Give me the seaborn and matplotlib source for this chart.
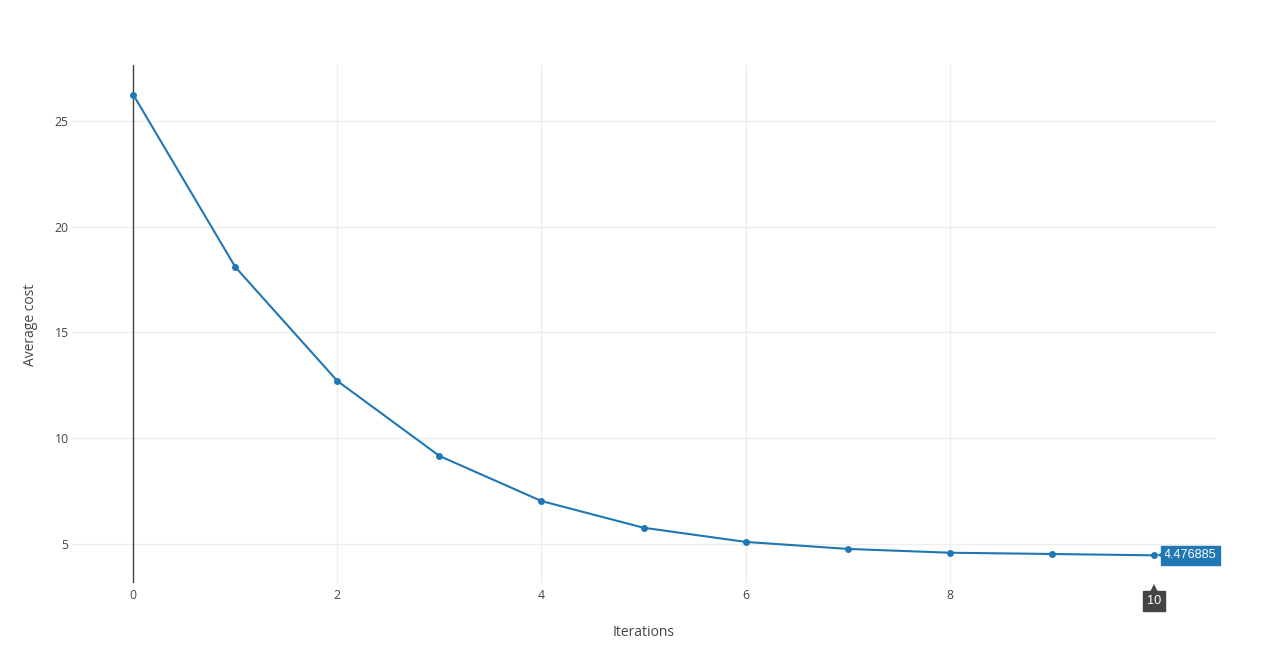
import matplotlib
matplotlib.use("Agg")
import matplotlib.pyplot as plt
import matplotlib.transforms as mtransforms
import seaborn as sns
import pandas as pd

# values
iterations = [0, 1, 2, 3, 4, 5, 6, 7, 8, 9, 10]
avg_cost = [26.23, 18.09, 12.71, 9.17, 7.04, 5.78, 5.11, 4.78, 4.60, 4.54, 4.476885]
y_ticks = [5, 10, 15, 20, 25]
x_ticks = [0, 2, 4, 6, 8]

df = pd.DataFrame({"Iterations": iterations, "Average cost": avg_cost})

sns.set_style("white")
plt.rcParams["font.family"] = ["Open Sans", "DejaVu Sans"]

blue = "#1f77b4"
dark = "#444444"

fig = plt.figure(figsize=(12.73, 6.56), dpi=100)
ax = fig.add_axes([72 / 1273, 1 - 583 / 656, 1143 / 1273, 518 / 656])

ax.grid(True, color="#eeeeee", linewidth=1)
ax.set_axisbelow(True)
ax.axvline(0, color=dark, linewidth=1, zorder=1.5)

sns.lineplot(data=df, x="Iterations", y="Average cost", ax=ax, color=blue,
             linewidth=1.5, marker="o", markersize=5, markeredgewidth=0, zorder=3)

ax.set_xlim(-0.6, 10.6)
ax.set_ylim(3.17, 27.63)
ax.set_xticks(x_ticks)
ax.set_yticks(y_ticks)
ax.tick_params(axis="both", length=0, labelsize=8.8, labelcolor=dark)
ax.tick_params(axis="x", pad=4)
ax.tick_params(axis="y", pad=2.5)
for s in ax.spines.values():
    s.set_visible(False)

ax.set_xlabel("Iterations", fontsize=10, color=dark)
ax.set_ylabel("Average cost", fontsize=10, color=dark)
ax.xaxis.set_label_coords(0.5, -0.081)
ax.yaxis.set_label_coords(-0.0298, 0.498)

# hover labels on the last point
last_x, last_y = iterations[-1], avg_cost[-1]
y_bottom = ax.get_ylim()[0]
hover_font = ["Liberation Sans", "DejaVu Sans"]


def shifted(dx_px, dy_px):
    return ax.transData + mtransforms.ScaledTranslation(dx_px / 100, dy_px / 100, fig.dpi_scale_trans)


ax.annotate(f"{last_y:.6f}", xy=(last_x, last_y), xytext=(7.2, 0), textcoords="offset points",
            ha="left", va="center", fontsize=9.2, color="white", family=hover_font,
            annotation_clip=False, zorder=5,
            bbox=dict(boxstyle="square,pad=0.25", fc=blue, ec=blue))
ax.plot([last_x], [last_y], marker="<", markersize=6, color=blue, markeredgewidth=0,
        transform=shifted(7, 0), clip_on=False, zorder=5)

ax.annotate(f"{last_x}", xy=(last_x, y_bottom), xytext=(0, -13.2), textcoords="offset points",
            ha="center", va="center", fontsize=9.2, color="white", family=hover_font,
            annotation_clip=False, zorder=5,
            bbox=dict(boxstyle="square,pad=0.3", fc=dark, ec=dark))
ax.plot([last_x], [y_bottom], marker="^", markersize=6, color=dark, markeredgewidth=0,
        transform=shifted(0, -5), clip_on=False, zorder=5)

fig.savefig("out.png", dpi=100)
